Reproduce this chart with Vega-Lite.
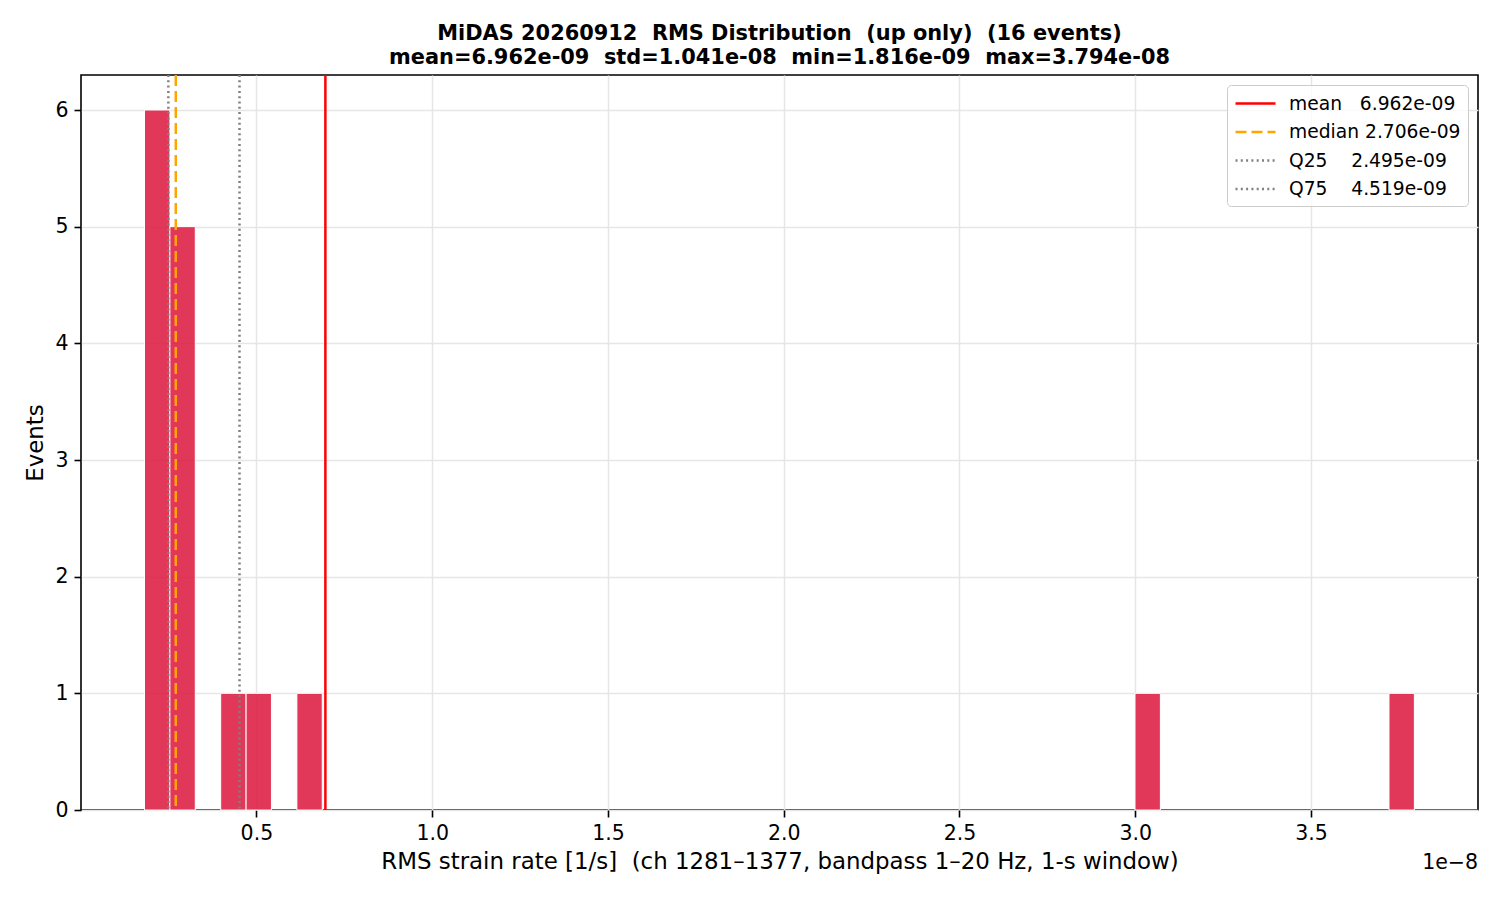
{
  "$schema": "https://vega.github.io/schema/vega-lite/v6.json",
  "width": 1397,
  "height": 735,
  "autosize": "none",
  "padding": {"left": 81, "top": 75, "right": 22, "bottom": 90},
  "background": "white",
  "title": {
    "text": ["MiDAS 20260912 \u00a0RMS Distribution \u00a0(up only) \u00a0(16 events)", "mean=6.962e-09 \u00a0std=1.041e-08 \u00a0min=1.816e-09 \u00a0max=3.794e-08"],
    "font": "DejaVu Sans",
    "fontSize": 20.9,
    "fontWeight": "bold",
    "lineHeight": 24,
    "anchor": "middle",
    "frame": "group",
    "offset": 6,
    "color": "black"
  },
  "datasets": {
    "bins": [
      {"bin_start": 0.1816, "bin_end": 0.2538, "count": 6},
      {"bin_start": 0.2538, "bin_end": 0.3261, "count": 5},
      {"bin_start": 0.3984, "bin_end": 0.4706, "count": 1},
      {"bin_start": 0.4706, "bin_end": 0.5428, "count": 1},
      {"bin_start": 0.6151, "bin_end": 0.6873, "count": 1},
      {"bin_start": 2.9993, "bin_end": 3.0715, "count": 1},
      {"bin_start": 3.7218, "bin_end": 3.794, "count": 1}
    ],
    "stats": [
      {"stat": "mean\u00a0\u00a0\u00a06.962e-09", "value": 0.6962},
      {"stat": "median 2.706e-09", "value": 0.2706},
      {"stat": "Q25\u00a0\u00a0\u00a0\u00a02.495e-09", "value": 0.2495},
      {"stat": "Q75\u00a0\u00a0\u00a0\u00a04.519e-09", "value": 0.4519}
    ]
  },
  "layer": [
    {
      "data": {"name": "bins"},
      "mark": {"type": "bar", "fill": "crimson", "fillOpacity": 0.85, "stroke": "white", "strokeWidth": 1},
      "encoding": {
        "x": {
          "field": "bin_start", "type": "quantitative",
          "scale": {"domain": [0.001, 3.975], "nice": false, "zero": false},
          "axis": {"values": [0.5, 1.0, 1.5, 2.0, 2.5, 3.0, 3.5], "format": ".1f", "title": "RMS strain rate [1/s] \u00a0(ch 1281–1377, bandpass 1–20 Hz, 1-s window)"}
        },
        "x2": {"field": "bin_end"},
        "y": {
          "field": "count", "type": "quantitative",
          "scale": {"domain": [0, 6.3], "nice": false},
          "axis": {"values": [0, 1, 2, 3, 4, 5, 6], "format": "d", "title": "Events"}
        },
        "y2": {"datum": 0}
      }
    },
    {
      "data": {"name": "stats"},
      "mark": {"type": "rule", "strokeWidth": 2.5},
      "encoding": {
        "x": {"field": "value", "type": "quantitative"},
        "color": {
          "field": "stat", "type": "nominal",
          "scale": {
            "domain": ["mean\u00a0\u00a0\u00a06.962e-09", "median 2.706e-09", "Q25\u00a0\u00a0\u00a0\u00a02.495e-09", "Q75\u00a0\u00a0\u00a0\u00a04.519e-09"],
            "range": ["red", "orange", "gray", "gray"]
          },
          "legend": {"title": null}
        },
        "strokeDash": {
          "field": "stat", "type": "nominal",
          "scale": {
            "domain": ["mean\u00a0\u00a0\u00a06.962e-09", "median 2.706e-09", "Q25\u00a0\u00a0\u00a0\u00a02.495e-09", "Q75\u00a0\u00a0\u00a0\u00a04.519e-09"],
            "range": [[1, 0], [11, 5], [2, 3.3], [2, 3.3]]
          },
          "legend": {"title": null}
        }
      }
    },
    {
      "data": {"values": [{}]},
      "mark": {"type": "text", "align": "right", "baseline": "middle", "font": "DejaVu Sans", "fontSize": 20.5, "color": "black"},
      "encoding": {
        "x": {"datum": 3.975},
        "y": {"datum": -0.45},
        "text": {"value": "1e−8"}
      }
    }
  ],
  "config": {
    "font": "DejaVu Sans",
    "view": {"stroke": "black", "strokeWidth": 1.6},
    "axis": {
      "domain": false,
      "grid": true,
      "gridColor": "#e6e6e6",
      "gridWidth": 1.5,
      "ticks": true,
      "tickColor": "black",
      "tickSize": 7,
      "tickWidth": 1.6,
      "labelFont": "DejaVu Sans",
      "labelFontSize": 20.5,
      "labelColor": "black",
      "labelPadding": 6,
      "titleFont": "DejaVu Sans",
      "titleFontSize": 22.9,
      "titleFontWeight": "normal",
      "titleColor": "black",
      "titlePadding": 7
    },
    "legend": {
      "orient": "top-right",
      "offset": 10,
      "padding": 7,
      "strokeColor": "#cccccc",
      "fillColor": "rgba(255,255,255,0.8)",
      "cornerRadius": 4,
      "symbolType": "M-1,0H3",
      "symbolSize": 400,
      "symbolStrokeWidth": 2.5,
      "labelFont": "DejaVu Sans",
      "labelFontSize": 18.7,
      "labelColor": "black",
      "labelOffset": 32,
      "rowPadding": 6.5,
      "labelLimit": 400
    }
  }
}
